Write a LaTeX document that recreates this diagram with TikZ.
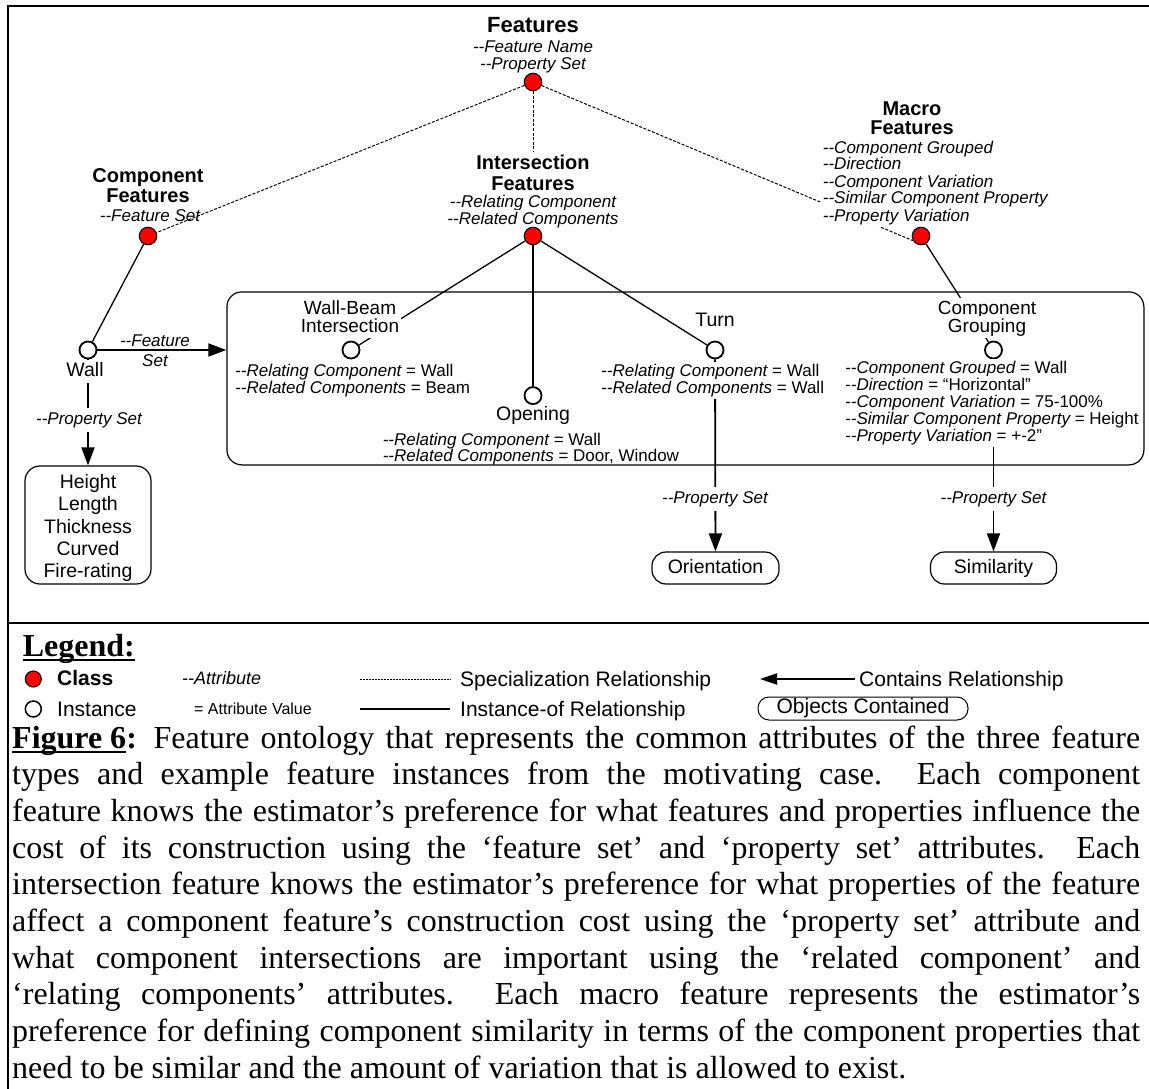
\documentclass[tikz,border=0pt]{standalone}
\usepackage{fontspec}
\setmainfont{Liberation Serif}
\setsansfont[Ligatures=TeXOff]{Liberation Sans}
\usetikzlibrary{arrows.meta,backgrounds}

% fonts
\newcommand\fTop{\sffamily\bfseries\fontsize{22}{24}\selectfont}
\newcommand\fHd{\sffamily\bfseries\fontsize{20}{22}\selectfont}
\newcommand\fAt{\sffamily\itshape\fontsize{17}{19}\selectfont}
\newcommand\fIv{\sffamily\fontsize{17}{19}\selectfont}
\newcommand\fLb{\sffamily\fontsize{19.5}{22.3}\selectfont}
\newcommand\fLbs{\sffamily\fontsize{19}{20}\selectfont}
\newcommand\fLg{\sffamily\fontsize{21}{24}\selectfont}
\newcommand\fLgB{\sffamily\bfseries\fontsize{21}{24}\selectfont}
\newcommand\fCp{\rmfamily\fontsize{32}{36.8}\selectfont}
\newcommand\fCpB{\rmfamily\bfseries\fontsize{32}{36.8}\selectfont}

% underline with a bar just below the baseline
\newsavebox\ulbox
\newcommand\ulbar[1]{\sbox\ulbox{#1}\rlap{\rule[-5pt]{\wd\ulbox}{2pt}}\usebox\ulbox}

\begin{document}
\begin{tikzpicture}[x=1pt,y=-1pt,
  cls/.style={circle,draw,fill=red,line width=1.1pt,minimum size=17.5pt,inner sep=0pt},
  inst/.style={circle,draw,fill=white,line width=1.8pt,minimum size=17pt,inner sep=0pt},
  tx/.style={inner sep=0pt,anchor=base},
  toph/.style={tx,font=\fTop},
  hd/.style={tx,font=\fHd,text height=15pt,text depth=4pt},
  attr/.style={tx,font=\fAt,text height=12.5pt,text depth=4pt},
  iv/.style={tx,font=\fIv,text height=12.5pt,text depth=4pt,anchor=base west},
  lb/.style={tx,font=\fLb,text height=14.5pt,text depth=4.5pt},
  lbs/.style={tx,font=\fLbs,text height=13.8pt,text depth=3.8pt},
  lg/.style={tx,font=\fLg,anchor=base west},
  mask/.style={fill=white,inner xsep=2pt,inner ysep=2pt},
  spec/.style={line width=1pt,dash pattern=on 3pt off 1.6pt},
  instof/.style={line width=1.3pt},
  contains/.style={line width=1.8pt,-{Triangle[length=18pt,width=13pt]}},
  box/.style={draw,rounded corners=15pt,line width=1.2pt,inner sep=0pt}
]
\useasboundingbox (0,0) rectangle (1149,1089);

% ---------- classes ----------
\node[toph] (root) at (533,33) {Features};
\node[attr] (rootA1) at (533,53) {--Feature Name};
\node[attr] (rootA2) at (533,70) {--Property Set};
\node[cls] (rootC) at (533,82) {};

\node[hd] (compH1) at (148,182.5) {Component};
\node[hd] (compH2) at (148,202) {Features};
\node[attr] (compA) at (150,221.5) {--Feature Set};
\node[cls] (compC) at (148,236) {};

\node[hd,mask] (intH1) at (533,169.3) {Intersection};
\node[hd,mask] (intH2) at (533,190) {Features};
\node[attr,mask] (intA1) at (533,207.3) {--Relating Component};
\node[attr,mask] (intA2) at (533,224.3) {--Related Components};
\node[cls] (intC) at (533,236) {};

\node[hd] (macH1) at (912,116) {Macro};
\node[hd] (macH2) at (912,135) {Features};
\node[attr,mask,anchor=base west] (macA1) at (820.7,153.3) {--Component Grouped};
\node[attr,mask,anchor=base west] (macA2) at (820.7,170) {--Direction};
\node[attr,mask,anchor=base west] (macA3) at (820.7,187.3) {--Component Variation};
\node[attr,mask,anchor=base west] (macA4) at (820.7,204) {--Similar Component Property};
\node[attr,mask,anchor=base west] (macA5) at (820.7,221) {--Property Variation};
\node[cls] (macC) at (921,236) {};

% ---------- instances ----------
\node[box,minimum width=917pt,minimum height=173pt] (group) at (685.4,378.4) {};

\node[inst] (wallC) at (88,350) {};
\node[lb,mask] (wallL) at (85,376.7) {Wall};
\node[attr] (fsetA) at (155,346) {--Feature};
\node[attr] (fsetB) at (155,366.7) {Set};
\node[attr,mask,inner ysep=4pt] (wallPS) at (89,424) {--Property Set};
\node[box,minimum width=126pt,minimum height=118pt] (props) at (88,525) {};
\node[tx,anchor=center,font=\fLb,align=center] (propsT) at (88,528)
  {Height\\Length\\Thickness\\Curved\\Fire-rating};

\node[lbs,mask] (wbL1) at (350,314) {Wall-Beam};
\node[lbs,mask] (wbL2) at (350,332) {Intersection};
\node[inst] (wbC) at (351,350) {};
\node[iv] (wbA1) at (235,376.7) {{\itshape --Relating Component} = Wall};
\node[iv] (wbA2) at (235,393.3) {{\itshape --Related Components} = Beam};

\node[inst] (opC) at (533,395.6) {};
\node[lb] (opL) at (533,420.7) {Opening};
\node[iv] (opA1) at (382.6,445) {{\itshape --Relating Component} = Wall};
\node[iv] (opA2) at (382.6,461.7) {{\itshape --Related Components} = Door, Window};

\node[lb] (turnL) at (715,326.7) {Turn};
\node[inst] (turnC) at (715,350) {};
\node[iv,mask] (turnA1) at (599,376.7) {{\itshape --Relating Component} = Wall};
\node[iv,mask] (turnA2) at (599,393.3) {{\itshape --Related Components} = Wall};
\node[attr,mask,inner ysep=4pt] (turnPS) at (715,503.3) {--Property Set};
\node[box,rounded corners=14pt,minimum width=127pt,minimum height=32pt,
      font=\fLb,text height=14.5pt,text depth=4.5pt] (orient) at (715.5,568) {Orientation};

\node[lbs,mask] (cgL1) at (987,314) {Component};
\node[lbs,mask] (cgL2) at (987,332) {Grouping};
\node[inst] (cgC) at (993.5,350) {};
\node[iv,mask] (cgA1) at (843,373.5) {{\itshape --Component Grouped} = Wall};
\node[iv,mask] (cgA2) at (843,390.5) {{\itshape --Direction} = “Horizontal”};
\node[iv,mask] (cgA3) at (843,407.5) {{\itshape --Component Variation} = 75-100\%};
\node[iv,mask] (cgA4) at (843,424) {{\itshape --Similar Component Property} = Height};
\node[iv,mask] (cgA5) at (843,441) {{\itshape --Property Variation} = +-2”};
\node[attr,mask,inner ysep=4pt] (cgPS) at (993.5,503.3) {--Property Set};
\node[box,rounded corners=14pt,minimum width=126pt,minimum height=32pt,
      font=\fLb,text height=14.5pt,text depth=4.5pt] (simil) at (993.5,568) {Similarity};

% ---------- connectors ----------
\begin{scope}[on background layer]
  \fill[white] (0,0) rectangle (1149,1089);
  \draw[spec] (rootC) -- (compC);
  \draw[spec] (rootC) -- (intC);
  \draw[spec] (rootC) -- (macC.210);
  \draw[instof] (compC) -- (wallC);
  \draw[instof] (intC) -- (wbC);
  \draw[instof] (intC) -- (opC);
  \draw[instof] (intC) -- (turnC);
  \draw[instof] (macC) -- (cgC);
  \draw[contains] (wallC) -- (wallC -| group.west);
  \draw[contains] (wallC) -- (props);
  \draw[contains] (turnC) -- (orient);
  \draw[contains] (cgC) -- (simil);
\end{scope}

% ---------- frame ----------
\coordinate (frBL) at (7.8,1089);
\coordinate (frTL) at (7.8,5.8);
\coordinate (frTR) at (1149,5.8);
\coordinate (frML) at (7.8,622.7);
\coordinate (frMR) at (1149,622.7);
\draw[line width=2.2pt] (frBL) -- (frTL) -- (frTR);
\draw[line width=2.2pt] (frML) -- (frMR);

% ---------- legend ----------
\node[tx,anchor=base west,font=\fCpB] (legT) at (22.7,656) {\ulbar{Legend:}};
\node[cls,minimum size=16pt] (legCls) at (33.3,679) {};
\node[inst,minimum size=16pt,line width=1.5pt] (legIns) at (33.3,709) {};
\node[tx,anchor=base west,font=\fLgB] (legClsT) at (57,685.5) {Class};
\node[lg] (legInsT) at (57,716) {Instance};
\node[tx,anchor=base west,font=\sffamily\itshape\fontsize{18}{20}\selectfont] (legAttr) at (182,684.5) {--Attribute};
\node[tx,anchor=base west,font=\sffamily\fontsize{16}{18}\selectfont] (legVal) at (194,714.5) {= Attribute Value};
\coordinate (sA) at (360,679);
\coordinate (sB) at (451,679);
\draw[line width=0.8pt,dash pattern=on 2pt off 1pt] (sA) -- (sB);
\node[lg] (legSpec) at (460,686) {Specialization Relationship};
\coordinate (cA) at (855,679);
\coordinate (cB) at (760,679);
\draw[line width=1.8pt,-{Triangle[length=17pt,width=11pt]}] (cA) -- (cB);
\node[lg] (legCont) at (859,686) {Contains Relationship};
\coordinate (iA) at (360,709);
\coordinate (iB) at (450,709);
\draw[line width=1.3pt] (iA) -- (iB);
\node[lg] (legInst) at (460,716) {Instance-of Relationship};
\node[draw,rounded corners=11pt,line width=1pt,minimum width=210pt,minimum height=23pt,
      font=\fLg,inner sep=0pt] (legObj) at (863,708.5) {Objects Contained};

% ---------- caption ----------
\node[tx,anchor=base west,font=\fCp] (cap1) at (12,748)
  {\makebox[1128pt][s]{\textbf{\ulbar{Figure 6}:} Feature ontology that represents the common attributes of the three feature}};
\node[tx,anchor=base west,font=\fCp] (cap2) at (12,784.7)
  {\makebox[1128pt][s]{types and example feature instances from the motivating case.\ \ Each component}};
\node[tx,anchor=base west,font=\fCp] (cap3) at (12,821.4)
  {\makebox[1128pt][s]{feature knows the estimator’s preference for what features and properties influence the}};
\node[tx,anchor=base west,font=\fCp] (cap4) at (12,858.1)
  {\makebox[1128pt][s]{cost of its construction using the ‘feature set’ and ‘property set’ attributes.\ \ Each}};
\node[tx,anchor=base west,font=\fCp] (cap5) at (12,894.8)
  {\makebox[1128pt][s]{intersection feature knows the estimator’s preference for what properties of the feature}};
\node[tx,anchor=base west,font=\fCp] (cap6) at (12,931.5)
  {\makebox[1128pt][s]{affect a component feature’s construction cost using the ‘property set’ attribute and}};
\node[tx,anchor=base west,font=\fCp] (cap7) at (12,968.2)
  {\makebox[1128pt][s]{what component intersections are important using the ‘related component’ and}};
\node[tx,anchor=base west,font=\fCp] (cap8) at (12,1004.9)
  {\makebox[1128pt][s]{‘relating components’ attributes.\ \ Each macro feature represents the estimator’s}};
\node[tx,anchor=base west,font=\fCp] (cap9) at (12,1041.6)
  {\makebox[1128pt][s]{preference for defining component similarity in terms of the component properties that}};
\node[tx,anchor=base west,font=\fCp] (cap10) at (12,1078.3)
  {need to be similar and the amount of variation that is allowed to exist.};
\end{tikzpicture}
\end{document}
